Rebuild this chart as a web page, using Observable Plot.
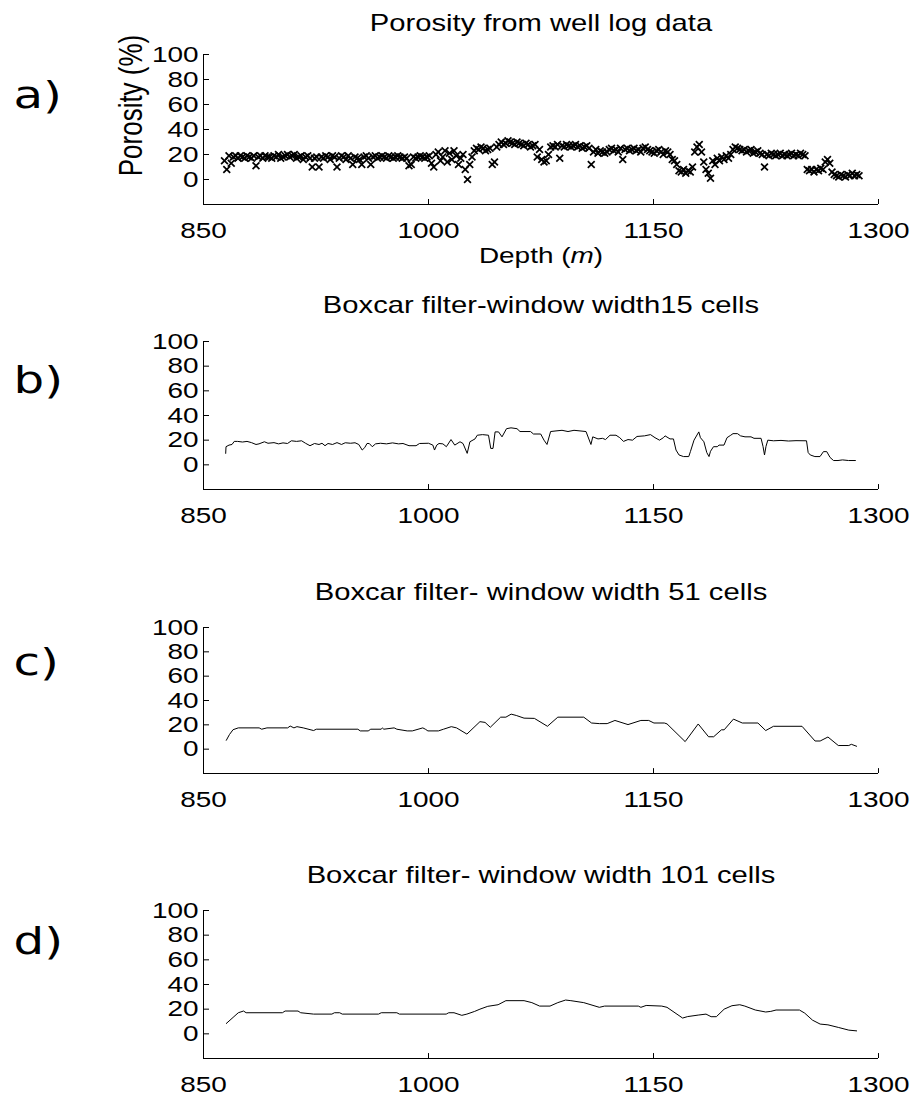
<!DOCTYPE html>
<html><head><meta charset="utf-8">
<script src="https://cdn.jsdelivr.net/npm/d3@7"></script>
<script src="https://cdn.jsdelivr.net/npm/@observablehq/plot@0.6"></script>
<style>
body{margin:0;background:#fff;}
#wrap{position:relative;width:911px;height:1098px;background:#fff;overflow:hidden;}
#wrap svg{position:absolute;left:0;}
</style></head><body><div id="wrap"></div>
<script>
// ---------- data ----------
const panelTitles = [
  "Porosity from well log data",
  "Boxcar filter-window width15 cells",
  "Boxcar filter- window width 51 cells",
  "Boxcar filter- window width 101 cells"
];
const panelLetters = ["a)", "b)", "c)", "d)"];
const xTicks = [850, 1000, 1150, 1300];
const yTicks = [0, 20, 40, 60, 80, 100];
const xLabel = "Depth (m)";
const yLabel = "Porosity (%)";

// raw log, sampled every 1.5 m from 864 m
const rawStartDepth = 864, rawStep = 1.5;
const rawPorosity = [
  15, 8, 19, 13, 18, 19, 17, 19, 18, 17,
  19, 18, 17, 19, 11, 18, 19, 17, 19, 18,
  18, 17, 19, 18, 20, 17, 18, 19, 20, 18,
  19, 20, 17, 18, 19, 16, 18, 19, 17, 10,
  17, 18, 10, 18, 17, 19, 18, 16, 19, 18,
  10, 17, 19, 18, 16, 19, 17, 12, 18, 17,
  16, 12, 18, 19, 17, 12, 18, 19, 17, 18,
  19, 18, 17, 19, 18, 17, 18, 19, 18, 17,
  18, 17, 11, 12, 18, 17, 18, 19, 18, 17,
  18, 19, 13, 10, 20, 22, 15, 18, 23, 14,
  21, 16, 23, 19, 12, 17, 20, 8, 0, 12,
  18, 23, 25, 24, 26, 25, 23, 24, 25, 12,
  14, 26, 28, 30, 28, 29, 31, 30, 29, 28,
  30, 29, 28, 27, 29, 28, 26, 27, 28, 18,
  24, 16, 14, 15, 20, 26, 27, 26, 28, 17,
  27, 26, 28, 27, 26, 27, 28, 26, 27, 25,
  26, 27, 25, 12, 22, 24, 21, 23, 22, 21,
  22, 24, 25, 23, 24, 22, 25, 16, 24, 25,
  23, 24, 25, 23, 24, 22, 25, 26, 24, 23,
  22, 21, 23, 24, 22, 20, 23, 22, 20, 16,
  15, 12, 7, 6, 8, 5, 7, 6, 10, 22,
  26, 28, 22, 14, 8, 5, 1, 15, 12, 17,
  15, 18, 16, 19, 17, 20, 24, 26, 25, 24,
  23, 24, 22, 23, 24, 21, 22, 23, 21, 20,
  10, 20, 19, 21, 20, 19, 20, 21, 19, 20,
  19, 20, 21, 19, 20, 19, 21, 20, 19, 8,
  7, 8, 6, 8, 7, 9, 8, 14, 16, 13,
  6, 4, 3, 2, 4, 3, 2, 4, 3, 5,
  3, 4, 3
];

// [depth, porosity] vertices of the filtered curves
const boxcar15 = [
  [864.8, 9.3], [865, 14.7], [867, 16], [869, 16.5], [870.5, 19], [872.7, 19], [876, 18.5], [879, 19],
  [882, 18], [885, 16.5], [887, 17], [890.6, 18.7], [893, 17.5], [897, 18], [900, 17], [903, 17.8],
  [906, 17.3], [908.6, 19.5], [912, 19], [915.4, 19.5], [918, 17.5], [921, 15.5], [924, 17.3], [927, 16.5],
  [929, 17.5], [931, 15.5], [933, 17.3], [936, 16.5], [939, 18], [942, 16.5], [944.5, 17.9], [948, 17.5],
  [951, 17.9], [953.5, 16.5], [955.8, 12], [957.5, 14], [959, 17.3], [960.5, 17.3], [962.5, 14.7], [964.7, 17],
  [968, 17.5], [972, 17], [976, 17.8], [980, 17], [983, 17.3], [987, 15.5], [991.7, 15.5], [994, 17.3],
  [1000, 17.5], [1002.9, 16], [1004, 12], [1005.5, 16], [1007, 17.3], [1009.6, 17], [1011.9, 14.7], [1015, 20.5],
  [1017.5, 16], [1021, 18.7], [1023, 17.3], [1025.8, 9.3], [1027.6, 18.7], [1031, 21], [1032.5, 24], [1036, 24.5],
  [1040, 24], [1041.5, 13.3], [1043, 13.3], [1044.4, 26.7], [1046.7, 26.7], [1049, 22.7], [1052, 29.3], [1055, 30],
  [1059, 29.3], [1061, 27], [1068, 27], [1070, 25], [1074.8, 25], [1077, 20], [1079, 16.5], [1081.4, 27],
  [1085, 27.5], [1089, 28], [1093, 27], [1097, 28], [1101, 27.5], [1105, 27], [1108.3, 16.5], [1109.5, 22.7],
  [1113, 21], [1116, 21.5], [1118, 20.5], [1121, 24], [1125, 24], [1127.5, 22], [1130, 19], [1133, 20.5],
  [1136, 20], [1139, 23], [1144, 23.5], [1148, 24.5], [1151, 22], [1154, 20], [1156.6, 22], [1157.7, 23.5],
  [1161, 21], [1163.3, 21], [1165, 12], [1167, 8], [1170, 6.7], [1173.5, 6.7], [1174.6, 10.7], [1177, 20],
  [1180.2, 26.7], [1181.3, 22], [1183.6, 18.7], [1185.5, 10], [1187, 6.7], [1188, 11], [1190, 14.7], [1192.5, 14.7],
  [1193.7, 16], [1197, 16], [1199, 22], [1201.5, 24], [1203, 25.3], [1206, 25.3], [1208, 23.5], [1211, 22.7],
  [1215, 22.7], [1217, 21.5], [1221.7, 21.5], [1223, 15], [1224, 8], [1225, 15], [1226.2, 20], [1230, 19.5],
  [1235, 19.8], [1240, 19.3], [1245, 19.6], [1252, 19.5], [1253.1, 10], [1254.5, 8], [1257.6, 6.7], [1261, 6.7],
  [1263.3, 10.7], [1265.5, 10.7], [1267.7, 6], [1270, 3.5], [1273, 3.5], [1276, 4], [1280, 3.5], [1284.6, 3.5]
];
const boxcar51 = [
  [865.2, 7.3], [867.3, 12], [869.7, 16], [873.2, 17.5], [887.1, 17.5], [888.8, 16.4], [892.3, 17.5], [906.1, 17.5],
  [907.8, 19], [910.3, 17.5], [912.3, 18.5], [916.5, 17.5], [923.4, 15.3], [925.2, 16.4], [952.9, 16.4], [954.5, 15],
  [959.8, 15], [961.5, 16.4], [968.5, 16.4], [969.3, 17.5], [970.2, 16.4], [977.1, 17.5], [978.9, 16.4], [985.8, 15],
  [989.2, 15], [996.2, 17.5], [997.9, 16.4], [999.6, 15], [1006.6, 15], [1010, 16.4], [1015.2, 18.5], [1018.7, 17.5],
  [1025.6, 12.4], [1034.3, 22.6], [1037.7, 22], [1041.2, 18], [1048.1, 26.3], [1051.6, 26.3], [1055.1, 28.8], [1058.5, 27.7],
  [1063.7, 25.5], [1070.6, 25.3], [1079.3, 18.8], [1086.2, 26.3], [1103.5, 26.3], [1108.7, 21.5], [1113.9, 21], [1119.1, 21],
  [1124.3, 23.6], [1133, 20.2], [1141.6, 23.6], [1146.8, 23.6], [1150.3, 21.5], [1157.2, 21.5], [1159, 20.8], [1171.1, 6.2],
  [1179.8, 20.7], [1186.7, 10.2], [1190.1, 10.2], [1195.3, 15.9], [1197.1, 15.9], [1203.3, 24.7], [1209.2, 21.5], [1219.6, 21.5],
  [1224.8, 15.3], [1230, 18.8], [1249, 18.8], [1257.7, 6.7], [1261.1, 6.7], [1266.3, 10], [1273.2, 3], [1280.2, 3],
  [1281.9, 4], [1285.4, 2.4]
];
const boxcar101 = [
  [865.2, 8.4], [869.7, 13.3], [873.2, 17.1], [876.7, 18.5], [878.4, 17.1], [902.6, 17.1], [904.4, 18.5], [913, 18.5],
  [914.8, 17.1], [923.4, 16], [935.6, 16], [937.3, 17.1], [940.8, 17.1], [942.5, 16], [966.7, 16], [968.5, 17.1],
  [978.9, 17.1], [980.6, 16], [1011.8, 16], [1013.5, 17.1], [1017, 17.1], [1022.2, 15], [1025.6, 16], [1030.8, 18.2],
  [1034.3, 20], [1039.5, 22.3], [1046.4, 23.6], [1051.6, 26.9], [1063.7, 26.9], [1068.9, 25.3], [1074.1, 22.5], [1081, 22.5],
  [1086.2, 25.3], [1091.4, 27.4], [1094.9, 26.9], [1103.5, 25.3], [1113.9, 21.5], [1117.4, 22.5], [1139.9, 22.5], [1141.6, 21.5],
  [1145.1, 23], [1155.5, 22.5], [1159, 21.5], [1169.4, 12.8], [1172.8, 14], [1179.8, 15.2], [1185, 16], [1188.4, 13.9],
  [1191.9, 13.9], [1197.1, 20], [1202.3, 22.8], [1207.5, 23.6], [1210.9, 22.5], [1217.9, 19.3], [1224.8, 17.7], [1228.2, 18.2],
  [1231.7, 19.3], [1247.3, 19.3], [1250.8, 16.8], [1256, 11.1], [1261.1, 7.9], [1266.3, 7.3], [1273.2, 5.2], [1280.2, 3],
  [1285.4, 2.4]
];

// ---------- layout ----------
const W = 911, ML = 203, MR = 33, XSTRETCH = 1.27;
const panels = [
  {top: 0,   mt: 54, ph: 150, h: 280, titleDy: -31, letterDy: 41},
  {top: 280, mt: 61, ph: 148, h: 280, titleDy: -36, letterDy: 39},
  {top: 560, mt: 67, ph: 146, h: 280, titleDy: -35, letterDy: 35},
  {top: 840, mt: 70, ph: 148, h: 258, titleDy: -35, letterDy: 31}
];

const rawData = rawPorosity.map((v, i) => ({depth: rawStartDepth + i * rawStep, por: v}));
const curves = [null, boxcar15, boxcar51, boxcar101];

const wrap = document.getElementById("wrap");

panels.forEach((p, k) => {
  const marks = [];
  if (k === 0) {
    marks.push(Plot.dot(rawData, {x: "depth", y: "por", symbol: "times", r: 3.2, stroke: "black", strokeWidth: 1.7}));
  } else {
    marks.push(Plot.line(curves[k], {x: d => d[0], y: d => d[1], stroke: "black", strokeWidth: 1}));
  }
  marks.push(
    Plot.ruleX([850], {y1: -20, y2: 100, stroke: "black"}),
    Plot.ruleY([-20], {x1: 850, x2: 1300, stroke: "black"}),
    Plot.ruleY(yTicks, {x1: 850, x2: 854, stroke: "black"}),
    Plot.ruleX(xTicks.slice(1), {y1: -20, y2: -16, stroke: "black"}),
    Plot.text(yTicks, {x: 850, y: d => d, text: d => String(d), textAnchor: "end", dx: -5, fontSize: 22}),
    Plot.text(xTicks, {x: d => d, y: -20, text: d => String(d), dy: 26, lineAnchor: "middle", fontSize: 22}),
    Plot.text([panelTitles[k]], {frameAnchor: "top", dy: p.titleDy, text: d => d, lineAnchor: "middle", fontSize: 23}),
    Plot.text([panelLetters[k]], {frameAnchor: "top-left", dx: -190, dy: p.letterDy, text: d => d, textAnchor: "start", lineAnchor: "middle", fontSize: 38, fontFamily: "DejaVu Sans"})
  );
  if (k === 0) {
    marks.push(
      Plot.text([yLabel], {frameAnchor: "top-left", dx: -72, dy: 51, text: d => d, rotate: -90, textAnchor: "middle", lineAnchor: "middle", fontSize: 26}),
      Plot.text([xLabel], {frameAnchor: "bottom", dy: 51, text: d => d, textAnchor: "middle", lineAnchor: "middle", fontSize: 22})
    );
  }
  const svg = Plot.plot({
    width: W,
    height: p.h,
    marginLeft: ML,
    marginRight: MR,
    marginTop: p.mt,
    marginBottom: p.h - p.mt - p.ph,
    x: {domain: [850, 1300], axis: null},
    y: {domain: [-20, 100], axis: null},
    style: {fontFamily: "'Liberation Sans', Arial, sans-serif", fontSize: "21px", color: "black", background: "transparent", overflow: "visible"},
    marks
  });
  svg.style.top = p.top + "px";
  // widen glyphs horizontally like the reference
  svg.querySelectorAll("text").forEach(t => {
    const tr = t.getAttribute("transform") || "";
    if (tr.includes("rotate")) t.setAttribute("transform", tr + ` scale(1,${XSTRETCH})`);
    else t.setAttribute("transform", tr + ` scale(${XSTRETCH},1)`);
    if (t.textContent === xLabel) {
      t.textContent = "";
      t.appendChild(document.createTextNode("Depth ("));
      const it = document.createElementNS("http://www.w3.org/2000/svg", "tspan");
      it.setAttribute("font-style", "italic");
      it.textContent = "m";
      t.appendChild(it);
      t.appendChild(document.createTextNode(")"));
    }
  });
  wrap.appendChild(svg);
});
</script></body></html>
